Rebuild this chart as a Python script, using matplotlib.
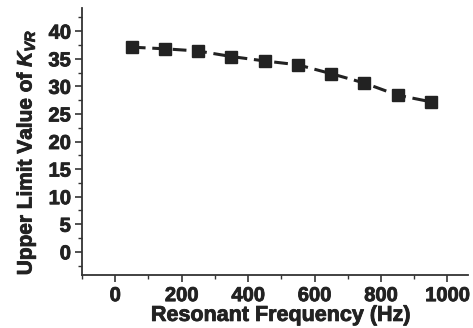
import matplotlib
matplotlib.use("Agg")
import matplotlib.pyplot as plt
import matplotlib.patheffects as pe
from matplotlib.ticker import MultipleLocator

# data
freq = [50, 150, 250, 350, 450, 550, 650, 750, 850, 950]
k_vr = [37.1, 36.8, 36.4, 35.4, 34.6, 33.9, 32.3, 30.6, 28.4, 27.2]

plt.rcParams['font.family'] = ['Liberation Sans', 'DejaVu Sans']
plt.rcParams['font.weight'] = 'bold'
plt.rcParams['mathtext.fontset'] = 'custom'
plt.rcParams['mathtext.it'] = 'Liberation Sans:italic:bold'
plt.rcParams['mathtext.rm'] = 'Liberation Sans:bold'

fig = plt.figure(figsize=(4.73, 3.28), dpi=100)
ax = fig.add_axes([82/473, 53/328, 386/473, 267/328])

ax.plot(freq, k_vr, color='#222222', linestyle=(0, (4.5, 2.2)), linewidth=2.2,
        marker='s', markersize=9, markerfacecolor='#222222', markeredgecolor='#222222')

ax.set_xlim(-100, 1062)
ax.set_ylim(-4.2, 44.2)
ax.xaxis.set_major_locator(MultipleLocator(200))
ax.xaxis.set_minor_locator(MultipleLocator(100))
ax.yaxis.set_major_locator(MultipleLocator(5))
ax.yaxis.set_minor_locator(MultipleLocator(2.5))

for s in ['top', 'right']:
    ax.spines[s].set_visible(False)
for s in ['left', 'bottom']:
    ax.spines[s].set_linewidth(1.3)
    ax.spines[s].set_color('#333333')

ax.tick_params(which='major', direction='out', length=5, width=1.2, labelsize=14.5, colors='#333333', labelcolor='#222222')
ax.tick_params(axis='x', which='major', pad=3)
ax.tick_params(axis='y', which='major', pad=3)
ax.tick_params(which='minor', direction='out', length=3, width=1.0, colors='#333333')

ax.set_xlabel('Resonant Frequency (Hz)', fontsize=15.5, fontweight='bold', color='#222222')
ax.set_ylabel(r'Upper Limit Value of $K_{VR}$', fontsize=15, fontweight='bold', color='#222222')
ax.xaxis.set_label_coords(0.515, -0.112)
ax.yaxis.set_label_coords(-0.115, 0.46)

# heavier text, the original font is very bold
heavy = [pe.withStroke(linewidth=0.6, foreground='#222222')]
for t in ax.get_xticklabels() + ax.get_yticklabels() + [ax.xaxis.label, ax.yaxis.label]:
    t.set_path_effects(heavy)

fig.savefig('out.png', dpi=100)
